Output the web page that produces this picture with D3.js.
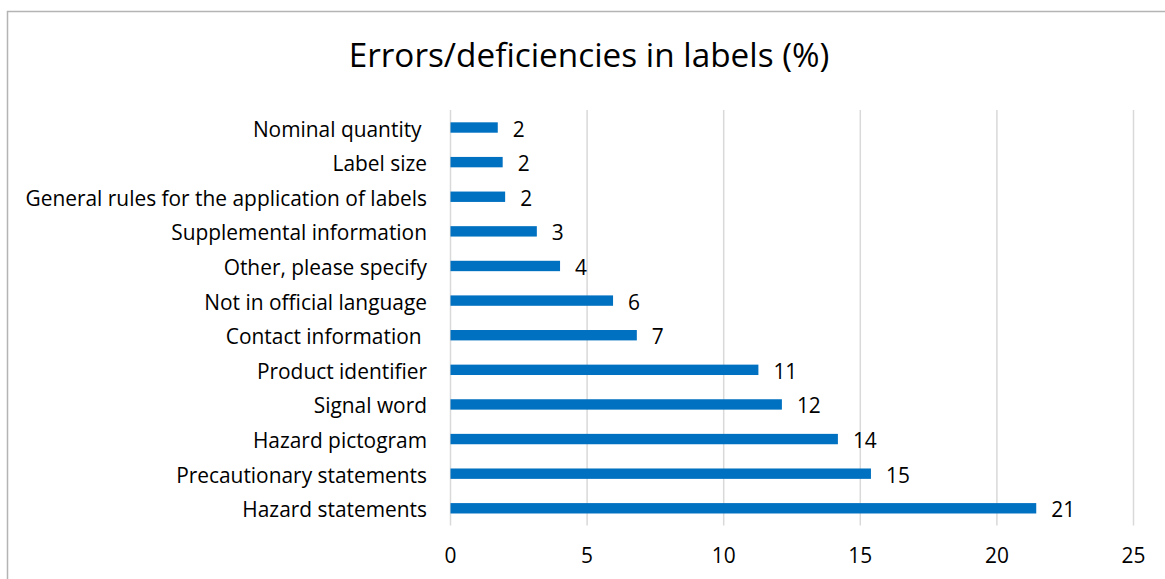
<!DOCTYPE html>
<html>
<head>
<meta charset="utf-8">
<script src="https://cdn.jsdelivr.net/npm/d3@7"></script>
<style>
  body { margin: 0; background: #fff; }
  text { font-family: "Open Sans", Lato, sans-serif; fill: #000; }
</style>
</head>
<body>
<div id="chart"></div>
<script>
// chart data, top to bottom as drawn
var categories = [
    "Nominal quantity ",
    "Label size",
    "General rules for the application of labels",
    "Supplemental information",
    "Other, please specify",
    "Not in official language",
    "Contact information ",
    "Product identifier",
    "Signal word",
    "Hazard pictogram",
    "Precautionary statements",
    "Hazard statements"
];
var values = [1.73, 1.91, 2.0, 3.16, 4.01, 5.95, 6.82, 11.27, 12.13, 14.18, 15.39, 21.44];
var xTicks = [0, 5, 10, 15, 20, 25];
var title = "Errors/deficiencies in labels (%)";

(function () {
    "use strict";

    var W = 1165, H = 579;
    var fontSize = 20.9;

    var svg = d3.select("#chart")
        .append("svg")
            .attr("width", W)
            .attr("height", H);

    // chart area border (runs off the right and bottom edges)
    svg.append("rect")
        .attr("x", 7.5).attr("y", 11.5)
        .attr("width", 1200).attr("height", 700)
        .attr("fill", "#fff")
        .attr("stroke", "#b4b4b4")
        .attr("stroke-width", 1.5);

    var x = d3.scaleLinear()
        .domain([0, 25])
        .range([450.5, 1133.5]);

    var y = d3.scaleBand()
        .domain(categories)
        .range([110.2, 525.6])
        .paddingInner(0.7)
        .paddingOuter(0.35);

    // vertical gridlines
    svg.append("g")
        .selectAll("line")
        .data(xTicks)
        .enter().append("line")
            .attr("x1", function (d) { return x(d); })
            .attr("x2", function (d) { return x(d); })
            .attr("y1", 110)
            .attr("y2", 525.6)
            .attr("stroke", "#d9d9d9")
            .attr("stroke-width", 1.5);

    // x tick labels
    svg.append("g")
        .selectAll("text")
        .data(xTicks)
        .enter().append("text")
            .attr("x", function (d) { return x(d); })
            .attr("y", 563)
            .attr("text-anchor", "middle")
            .attr("font-size", fontSize)
            .text(function (d) { return d; });

    // bars
    svg.append("g")
        .selectAll("rect")
        .data(values)
        .enter().append("rect")
            .attr("x", x(0))
            .attr("y", function (d, i) { return y(categories[i]); })
            .attr("width", function (d) { return x(d) - x(0); })
            .attr("height", y.bandwidth())
            .attr("fill", "#0070c0");

    // category labels
    svg.append("g")
        .selectAll("text")
        .data(categories)
        .enter().append("text")
            .attr("x", 427)
            .attr("y", function (d) { return y(d) + y.bandwidth() / 2 + 9; })
            .attr("text-anchor", "end")
            .attr("font-size", fontSize)
            .style("white-space", "pre")
            .text(function (d) { return d; });

    // value labels
    svg.append("g")
        .selectAll("text")
        .data(values)
        .enter().append("text")
            .attr("x", function (d) { return x(d) + 15; })
            .attr("y", function (d, i) { return y(categories[i]) + y.bandwidth() / 2 + 9; })
            .attr("font-size", fontSize)
            .text(function (d) { return Math.round(d); });

    // title
    svg.append("text")
        .attr("x", 589)
        .attr("y", 67)
        .attr("text-anchor", "middle")
        .attr("font-size", 33.3)
        .text(title);

}());
</script>
</body>
</html>
